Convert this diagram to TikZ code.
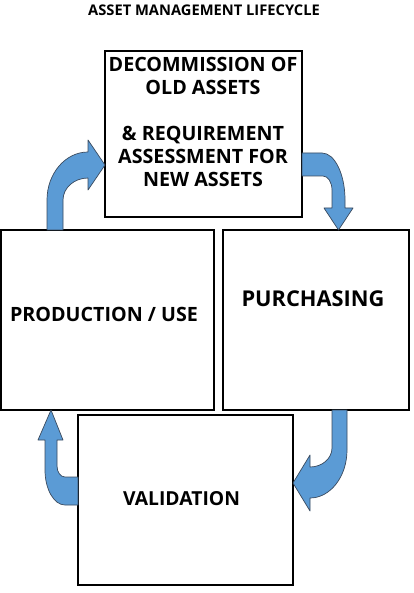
\documentclass[tikz,border=0pt]{standalone}
\usepackage{fontspec}
\setmainfont{Open Sans}
\definecolor{arrowblue}{HTML}{5B9BD5}
\definecolor{arrowline}{HTML}{3A4A5E}
\begin{document}
\begin{tikzpicture}[x=1pt,y=-1pt,
  box/.style={draw=black,line width=1.6pt,fill=white,inner sep=0pt,outer sep=0pt},
  blockarrow/.style={fill=arrowblue,draw=arrowline,line width=0.7pt,line join=round},
  lbl/.style={inner sep=0pt,font=\bfseries}]
\useasboundingbox (0,0) rectangle (414,593);
\fill[white] (0,0) rectangle (414,593);
% boxes
\node[box,minimum width=197pt,minimum height=166pt] (top) at (203.5,134) {};
\node[box,minimum width=213pt,minimum height=180pt] (left) at (107.5,320) {};
\node[box,minimum width=186pt,minimum height=180pt] (right) at (316,320) {};
\node[box,minimum width=215pt,minimum height=170pt] (bottom) at (185.5,500) {};
% texts
\node[lbl,anchor=base,font=\bfseries\fontsize{14.7}{18}\selectfont] (title) at (204,16) {ASSET MANAGEMENT LIFECYCLE};
\node[lbl,anchor=north,align=center,font=\bfseries\fontsize{19.7}{23}\selectfont] (toptext) at (203,57.5)
  {DECOMMISSION OF\\OLD ASSETS\\[23pt]\& REQUIREMENT\\ASSESSMENT FOR\\NEW ASSETS};
\node[lbl,anchor=base,font=\bfseries\fontsize{19.7}{24}\selectfont] (lefttext) at (104,321) {PRODUCTION / USE};
\node[lbl,anchor=base,font=\bfseries\fontsize{21.8}{26}\selectfont] (righttext) at (313,306) {PURCHASING};
\node[lbl,anchor=base,font=\bfseries\fontsize{19.3}{24}\selectfont] (bottomtext) at (181.5,505) {VALIDATION};
% arrow: production -> decommission
\draw[blockarrow] (47,230) -- (47,200) .. controls (47,173.5) and (65.4,152) .. (88,152)
  -- (88,140) -- (105,165) -- (88,190) -- (88,178)
  .. controls (74.2,178) and (63,187.9) .. (63,200) -- (63,230) -- cycle;
% arrow: decommission -> purchasing
\draw[blockarrow] (302,153) -- (322,153) .. controls (334.7,153) and (345,174.1) .. (345,200)
  -- (345,208) -- (353,208) -- (338.5,230) -- (324,208) -- (332,208) -- (332,190)
  .. controls (332,182.3) and (328,176) .. (323,176) -- (302,176) -- cycle;
% arrow: purchasing -> validation
\draw[blockarrow] (332,410) -- (332,448) .. controls (332,458.5) and (322.1,467) .. (310,467)
  -- (310,455) -- (293,483) -- (310,511) -- (310,498)
  .. controls (330.4,498) and (347,476.5) .. (347,450) -- (347,410) -- cycle;
% arrow: validation -> production
\draw[blockarrow] (78,477) -- (65,477) .. controls (60.6,477) and (57,472.1) .. (57,466)
  -- (57,440) -- (63,440) -- (51,410) -- (38,440) -- (45,440) -- (45,470)
  .. controls (45,489.3) and (54,505) .. (65,505) -- (78,505) -- cycle;
\end{tikzpicture}
\end{document}
